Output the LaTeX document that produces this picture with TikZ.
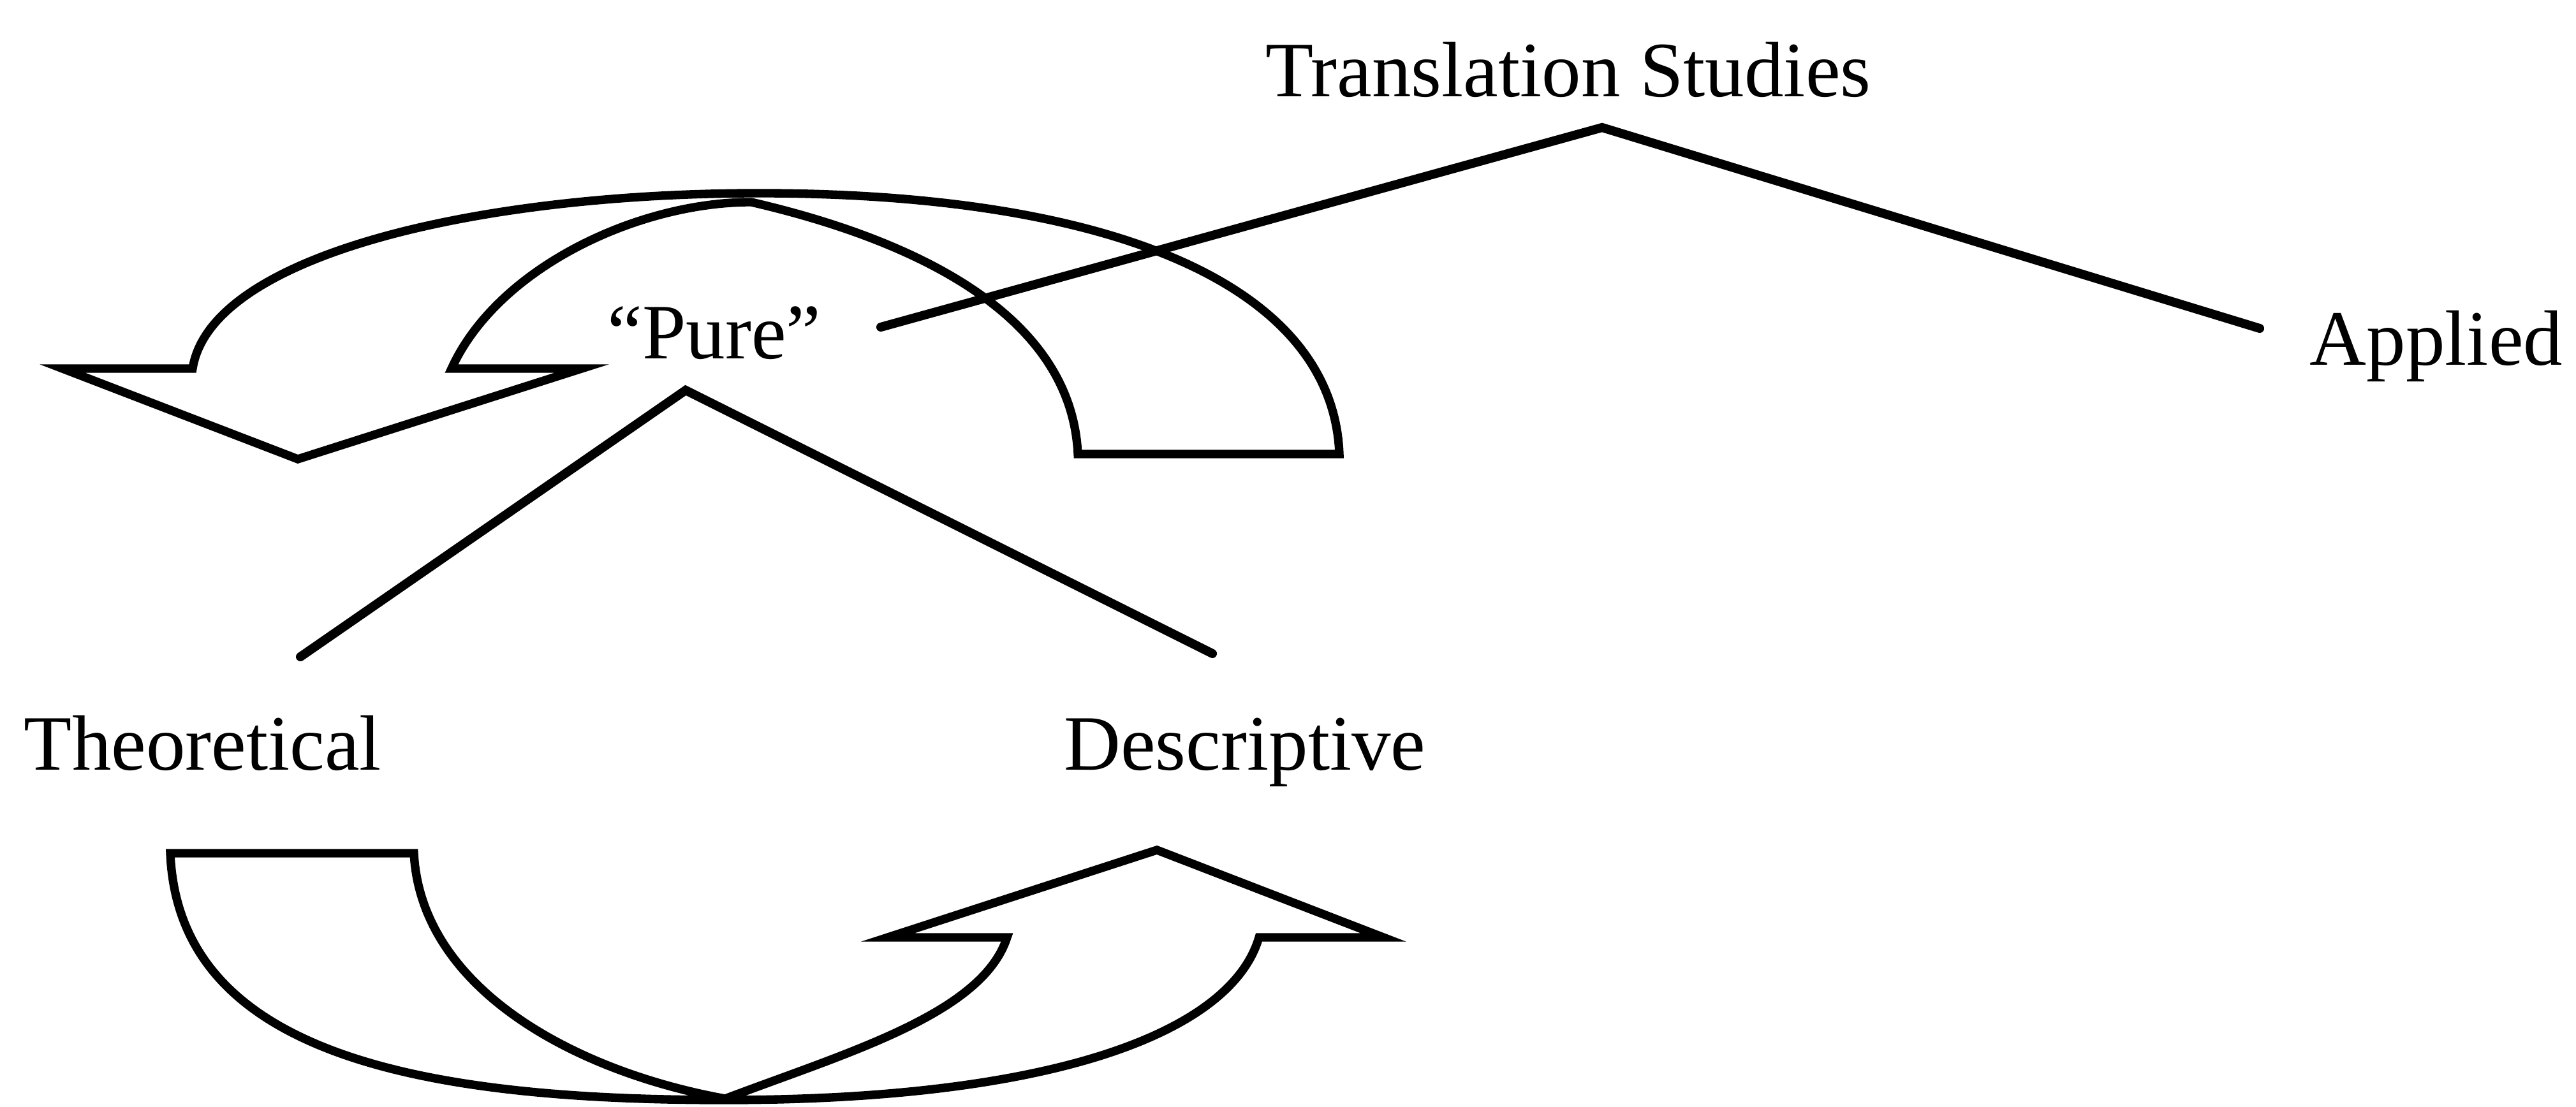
\documentclass[tikz,border=0pt]{standalone}
\usepackage{fontspec}
\setmainfont{Liberation Serif}
\usepackage{tikz}

\begin{document}
\begin{tikzpicture}[
    word/.style={anchor=base,inner sep=0pt,font=\fontsize{35}{42}\selectfont},
    branch/.style={line width=4pt,line cap=round},
    cyclearrow/.style={line width=3.8pt,line join=miter}
  ]
  \useasboundingbox (0,0) rectangle (40.39,17.35);

  % Labels
  \node[word] (ts)   at (24.59,15.83) {Translation Studies};
  \node[word] (pure) at (11.20,11.72) {“Pure”};
  \node[word] (appl) at (38.20,11.62) {Applied};
  \node[word] (theo) at (3.18,5.27)   {Theoretical};
  \node[word] (desc) at (19.52,5.27)  {Descriptive};

  % Branch ends around the labels
  \coordinate (tsfork)   at ([shift={(0.53,-0.48)}]ts.base);
  \coordinate (pureup)   at ([shift={(2.61,0.50)}]pure.base);
  \coordinate (purefork) at ([shift={(-0.45,-0.49)}]pure.base);
  \coordinate (applup)   at ([shift={(-2.77,0.58)}]appl.base);
  \coordinate (theoup)   at ([shift={(1.53,1.78)}]theo.base);
  \coordinate (descup)   at ([shift={(-0.51,1.83)}]desc.base);

  % Tree
  \draw[branch] (pureup) -- (tsfork) -- (applup);
  \draw[branch] (theoup) -- (purefork) -- (descup);

  % Curved arrow over "Pure" (pointing down to the left)
  \draw[cyclearrow] (16.90,10.23) -- (21.00,10.23)
    .. controls (20.90,12.85) and (17.50,14.32) .. (11.90,14.32)
    .. controls (7.50,14.32) and (3.30,13.35) .. (3.02,11.57)
    -- (0.98,11.57) -- (4.67,10.15) -- (9.12,11.57) -- (7.08,11.57)
    .. controls (7.80,13.15) and (10.00,14.18) .. (11.78,14.18)
    .. controls (14.50,13.55) and (16.80,12.35) .. (16.90,10.23) -- cycle;

  % Curved arrow below (pointing up to the right)
  \draw[cyclearrow] (2.67,3.97) -- (6.49,3.97)
    .. controls (6.60,1.85) and (9.00,0.55) .. (11.37,0.12)
    .. controls (13.30,0.85) and (15.40,1.45) .. (15.79,2.65)
    -- (13.92,2.65) -- (18.14,4.02) -- (21.69,2.65) -- (19.74,2.65)
    .. controls (19.30,1.15) and (16.50,0.10) .. (11.37,0.10)
    .. controls (6.50,0.10) and (2.80,0.85) .. (2.67,3.97) -- cycle;
\end{tikzpicture}
\end{document}
